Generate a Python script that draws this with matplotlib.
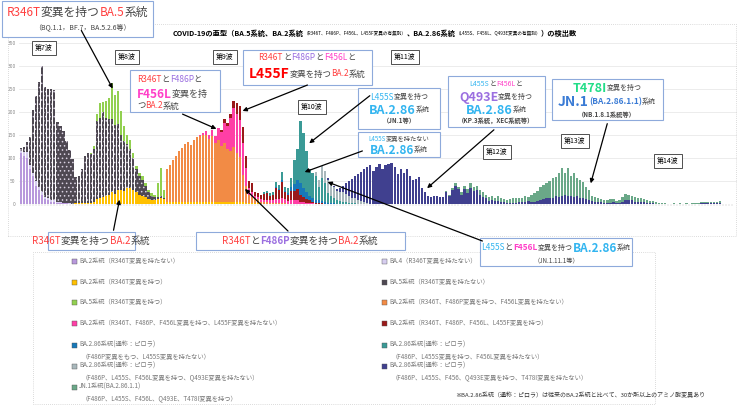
import numpy as np
import matplotlib
matplotlib.use("Agg")
import matplotlib.pyplot as plt
from matplotlib.patches import Rectangle, FancyArrowPatch

plt.rcParams['font.family'] = ['Noto Sans CJK JP', 'DejaVu Sans']
plt.rcParams['hatch.color'] = '#d8d0e0'
plt.rcParams['hatch.linewidth'] = 0.6

W, H = 740, 405
N_WEEKS = 235

# ---- data (weekly detections), each block = (start week, values) ----
ba2_no = (0, [110, 105, 100, 75, 60, 40, 30, 20, 10, 8, 5, 5, 3, 2, 2, 2, 1, 1])
ba4 = (0, [5, 8, 12, 10, 8, 10, 8, 6, 5, 4, 3, 3, 2, 2, 1, 1, 1])
ba5_no = (0, [7, 11, 22, 61, 137, 185, 227, 274, 240, 238, 242, 240, 173, 166, 155, 133, 116, 97, 56, 58, 73, 102, 107,
              105, 115, 170, 175, 185, 170, 165, 160, 150, 145, 120, 110, 95, 85, 70, 50, 40, 35, 25, 15, 10, 8, 5, 5, 3])
ba2_r346t = (18, [2, 2, 3, 3, 3,
                  3, 5, 10, 12, 15, 18, 20, 25, 22, 30, 30, 28, 35, 35, 30, 25, 20, 18, 15, 10, 8, 8, 10, 12, 10,
                  5, 5, 5, 5, 5, 5, 5, 5, 5, 5, 5, 5, 5, 5, 5, 5, 5, 5, 5, 5, 5, 5, 5, 5, 5, 5, 2, 2, 2, 2, 2])
ba5_r346t = (23, [2, 5, 15, 33, 22, 36, 46, 77, 66, 71, 52, 31, 21, 20, 10, 7, 7, 7, 5, 5, 5, 4, 30, 61, 17])
ba2_f486p = (48, [70, 80, 90, 100, 110, 117, 125, 130, 123, 135, 140, 142, 145, 145, 137, 143, 128, 135, 122, 127, 115,
                  111, 119, 105, 98, 58, 37, 17, 13, 10, 8, 5, 4, 4, 3, 3, 2, 2, 2, 2, 1, 1])
ba2_f456l = (59, [3, 5, 8, 8, 12, 15, 25, 30, 45, 50, 70, 85, 85, 80, 70, 40, 15, 10, 5, 5, 5,
                  5, 5, 5, 5, 8, 8, 10, 8, 6, 8, 8, 8, 5, 5, 3, 3, 2, 1, 1, 1])
ba2_l455f = (66, [3, 8, 5, 10, 15, 25, 30, 35, 25, 15, 20, 10, 8, 10,
                  12, 15, 10, 12, 25, 20, 35, 15, 12, 20, 20, 25, 15, 10, 8, 5, 3, 2, 2, 1, 1])
ba286_blue = (84, [2, 2, 5, 3, 5, 8, 15, 20, 25, 20, 15, 10, 8, 6, 5, 5, 4, 3, 2, 2, 1])
ba286_teal = (80, [5, 5, 5, 5, 10, 10, 17, 9, 11, 20, 52, 67, 135, 120, 89, 57, 54, 51, 30, 50, 41,
                   20, 15, 10, 8, 6, 5, 4, 3, 2, 2, 1, 1, 1])
ba286_f456l = (97, [10, 15, 25, 25, 30, 28, 25, 20, 20, 20, 18, 15, 12, 10, 8, 5, 3, 2, 1])
ba286_q493e = (101, [3, 2, 3, 3, 9, 15, 23, 32, 41, 48, 56, 64, 71, 78, 84, 72, 80, 88, 75, 85, 88, 90, 80, 65, 75,
                     68, 75, 60, 52, 55, 58, 35, 25, 18, 15, 17, 17, 16, 15, 25, 17, 30, 40, 33, 20, 32, 24, 35, 28,
                     30, 20, 15, 12, 7, 8, 6, 7, 5, 4, 3, 2, 2, 2, 4, 4, 5, 6, 5, 5, 7, 8, 10, 13, 13, 14, 18, 15,
                     18, 20, 17, 18, 16, 18, 12, 12, 10, 8, 7, 5, 4, 4, 3, 2, 3, 4, 3, 2, 4, 8, 8, 8, 5, 5, 4, 4,
                     3, 2, 2, 1, 1, 1, 0, 0, 0, 1, 0, 1, 0, 1, 0, 1, 1, 1, 2, 2, 2, 2, 2, 2, 2])
jn1 = (140, [3, 3, 5, 5, 5, 5, 8, 8, 10, 10, 10, 10, 10, 8, 8, 10, 8, 10, 8, 7, 6, 8, 10, 10, 8, 10, 12, 10, 15,
             18, 22, 28, 32, 32, 38, 42, 40, 52, 60, 48, 62, 42, 52, 38, 40, 35, 27, 23, 10, 10, 8, 7, 6, 7, 8,
             7, 4, 6, 12, 14, 12, 10, 10, 8, 8, 7, 6, 5, 4, 3, 2, 2, 2, 0, 0, 2, 0, 2, 0, 2, 0, 1, 1, 1, 2, 2,
             3, 3, 3, 3, 4])

# stack order (bottom -> top), legend label, colour, hatch
series = [
    ("ba2_no", ba2_no, "#b898dc", None),
    ("ba4", ba4, "#d6cdef", None),
    ("ba2_r346t", ba2_r346t, "#ffc000", None),
    ("ba5_no", ba5_no, "#4e4852", "...."),
    ("ba5_r346t", ba5_r346t, "#92d050", None),
    ("ba2_f486p", ba2_f486p, "#f28b45", None),
    ("ba2_f456l", ba2_f456l, "#ff3fa6", None),
    ("ba2_l455f", ba2_l455f, "#9a1a1a", None),
    ("ba286_blue", ba286_blue, "#1778b8", None),
    ("ba286_teal", ba286_teal, "#3a9a96", None),
    ("ba286_f456l", ba286_f456l, "#a9b8bc", None),
    ("ba286_q493e", ba286_q493e, "#40408f", None),
    ("jn1", jn1, "#6aa888", None),
]

legend_left = [
    ("#b898dc", "BA.2系統（R346T変異を持たない）", None),
    ("#ffc000", "BA.2系統（R346T変異を持つ）", None),
    ("#92d050", "BA.5系統（R346T変異を持つ）", None),
    ("#ff3fa6", "BA.2系統（R346T、F486P、F456L変異を持つ、L455F変異を持たない）", None),
    ("#1778b8", "BA.2.86系統(通称：ピロラ)", "（F486P変異をもつ、L455S変異を持たない）"),
    ("#a9b8bc", "BA.2.86系統(通称：ピロラ)", "（F486P、L455S、F456L変異を持つ、Q493E変異を持たない）"),
    ("#6aa888", "JN.1系統(BA.2.86.1.1)", "（F486P、L455S、F456L、Q493E、T478I変異を持つ）"),
]
legend_right = [
    ("#d6cdef", "BA.4（R346T変異を持たない）", None),
    ("#4e4852", "BA.5系統（R346T変異を持たない）", None),
    ("#f28b45", "BA.2系統（R346T、F486P変異を持つ、F456L変異を持たない）", None),
    ("#9a1a1a", "BA.2系統（R346T、F486P、F456L、L455F変異を持つ）", None),
    ("#3a9a96", "BA.2.86系統(通称：ピロラ)", "（F486P、L455S変異を持つ、F456L変異を持たない）"),
    ("#40408f", "BA.2.86系統(通称：ピロラ)", "（F486P、L455S、F456、Q493E変異を持つ、T478I変異を持たない）"),
]

waves = [("第7波", 44, 48), ("第8波", 127, 57), ("第9波", 225, 57), ("第10波", 312, 107),
         ("第11波", 405, 57), ("第12波", 497, 152), ("第13波", 575, 141), ("第14波", 668, 161)]

RED = "#ff4040"
PUR = "#9b6fe0"
PINK = "#ff3fc8"
SKY = "#33b5f0"
BLU = "#3a7bd5"
GRY = "#444444"

fig = plt.figure(figsize=(W / 100, H / 100), dpi=100)
fig.patch.set_facecolor("white")


def fx(x):
    return x / W


def fy(y):
    return 1 - y / H


ax = fig.add_axes([fx(18.5), fy(204), fx(736.5) - fx(18.5), fy(43) - fy(204)])
x = np.arange(N_WEEKS)
bottom = np.zeros(N_WEEKS)
for name, (start, vals), color, hatch in series:
    arr = np.zeros(N_WEEKS)
    arr[start:start + len(vals)] = vals
    ax.bar(x, arr, bottom=bottom, width=0.75, color=color, hatch=hatch, linewidth=0)
    bottom += arr

ax.set_xlim(-0.8, N_WEEKS + 0.5)
ax.set_ylim(0, 350)
ax.set_yticks(range(0, 351, 50))
ax.tick_params(axis="y", labelsize=3.5, labelcolor="#888888", length=0, pad=2)
ax.set_xticks(x)
ax.tick_params(axis="x", length=1.5, width=0.3, color="#bbbbbb", labelbottom=False)
ax.grid(axis="y", color="#e4e4e4", linewidth=0.5)
ax.set_axisbelow(True)
for s in ax.spines.values():
    s.set_visible(False)
ax.axhline(0, color="#cccccc", linewidth=0.5)

# outer dotted frames
fig.add_artist(Rectangle((fx(8), fy(236)), fx(728), fy(24) - fy(236), transform=fig.transFigure,
                         fill=False, ls=(0, (1, 2)), lw=0.5, ec="#bbbbbb"))
fig.add_artist(Rectangle((fx(33), fy(404)), fx(622), fy(252) - fy(404), transform=fig.transFigure,
                         fill=False, ls=(0, (1, 2)), lw=0.5, ec="#bbbbbb"))

fig.text(fx(6), fy(33), "検出数", fontsize=3, color="#888888", va="center")
renderer = fig.canvas.get_renderer()


def rich(xc, y, runs, ha="center"):
    """Draw coloured runs of text on one line, centred at xc (pixels)."""
    texts = []
    for s, color, size, bold in runs:
        t = fig.text(0, fy(y), s, color=color, fontsize=size, va="center",
                     fontweight="bold" if bold else "normal", zorder=6)
        texts.append(t)
    widths = [t.get_window_extent(renderer).width for t in texts]
    total = sum(widths)
    xs = xc - total / 2 if ha == "center" else xc
    for t, w in zip(texts, widths):
        t.set_x(fx(xs))
        xs += w


def box(x0, y0, x1, y1):
    fig.add_artist(Rectangle((fx(x0), fy(y1)), fx(x1 - x0), fy(y0) - fy(y1), transform=fig.transFigure,
                             fc="white", ec="#8eaadb", lw=0.8, zorder=5))


def arrow(p0, p1):
    fig.add_artist(FancyArrowPatch((fx(p0[0]), fy(p0[1])), (fx(p1[0]), fy(p1[1])), transform=fig.transFigure,
                                   arrowstyle="-|>", mutation_scale=6, lw=0.9, color="black", zorder=7))


# title
rich(375, 33, [("COVID-19の亜型（BA.5系統、BA.2系統", "black", 5.2, True),
               ("（R346T、F486P、F456L、L455F変異の有無別）", "black", 3.3, False),
               ("、BA.2.86系統", "black", 5.2, True),
               ("（L455S、F456L、Q493E変異の有無別）", "black", 3.3, False),
               ("）の検出数", "black", 5.2, True)])

for label, wx, wy in waves:
    fig.text(fx(wx), fy(wy), label, fontsize=5, ha="center", va="center", zorder=6,
             bbox=dict(boxstyle="square,pad=0.5", fc="white", ec="#333333", lw=0.6))

# annotation boxes
box(2, 1, 153, 37)
rich(77, 12, [("R346T", RED, 8.5, False), ("変異を持つ", GRY, 8.5, False), ("BA.5", RED, 8.5, False),
              ("系統", GRY, 8.5, False)])
rich(82, 28, [("（BQ.1.1，BF.7，BA.5.2.6等）", GRY, 5, False)])
arrow((80, 28), (114, 91))

box(130, 70, 220, 112)
rich(130 + 7, 80, [("R346T", RED, 6, False), ("と", GRY, 6, False), ("F486P", PUR, 6, False), ("と", GRY, 6, False)], ha="left")
rich(130 + 7, 94, [("F456L", PINK, 8.5, True), ("変異を持", GRY, 6.5, False)], ha="left")
rich(130 + 7, 106, [("つ", GRY, 6, False), ("BA.2", RED, 6, False), ("系統", GRY, 6, False)], ha="left")
arrow((180, 113), (219, 130))

box(243, 50, 372, 85)
rich(307, 58, [("R346T", RED, 6, False), ("と", GRY, 6, False), ("F486P", PUR, 6, False), ("と", GRY, 6, False),
               ("F456L", PINK, 6, False), ("と", GRY, 6, False)])
rich(307, 74, [("L455F", "#ff0000", 10, True), ("変異を持つ", GRY, 6, False), ("BA.2", RED, 6, False),
               ("系統", GRY, 6, False)])
arrow((310, 84), (240, 112))

box(358, 88, 440, 129)
rich(399, 97, [("L455S", SKY, 6, False), ("変異を持つ", GRY, 5, False)])
rich(399, 110, [("BA.2.86", SKY, 9, True), ("系統", GRY, 5, False)])
rich(399, 121, [("（JN.1等）", GRY, 4.5, True)])
arrow((372, 94), (307, 145))

box(358, 132, 440, 157)
rich(399, 139, [("L455S", SKY, 4.5, False), ("変異を持たない", GRY, 4.5, False)])
rich(399, 150, [("BA.2.86", SKY, 8.5, True), ("系統", GRY, 5, False)])
arrow((365, 150), (302, 173))

box(448, 76, 545, 127)
rich(496, 84, [("L455S", SKY, 5, False), ("と", GRY, 5, False), ("F456L", PINK, 5, False), ("と", GRY, 5, False)])
rich(496, 97, [("Q493E", PUR, 9, True), ("変異を持つ", GRY, 5, False)])
rich(496, 110, [("BA.2.86", SKY, 9, True), ("系統", GRY, 5, False)])
rich(496, 121, [("（KP.3系統，XEC系統等）", GRY, 4.5, True)])
arrow((496, 128), (425, 190))

box(552, 79, 663, 120)
rich(607, 88, [("T478I", "#22dd88", 9, True), ("変異を持つ", GRY, 5, False)])
rich(607, 102, [("JN.1", BLU, 10, True), ("(BA.2.86.1.1)", BLU, 6, True), ("系統", GRY, 5, False)])
rich(607, 114, [("（NB.1.8.1系統等）", GRY, 4.5, True)])
arrow((608, 121), (590, 186))

box(48, 232, 135, 250)
rich(91, 241, [("R346T", RED, 7, False), ("変異を持つ", GRY, 7, False), ("BA.2", RED, 7, False), ("系統", GRY, 7, False)])
arrow((113, 233), (120, 197))

box(196, 232, 405, 250)
rich(300, 241, [("R346T", RED, 7, False), ("と", GRY, 7, False), ("F486P", PUR, 7, True), ("変異を持つ", GRY, 7, False),
                ("BA.2", RED, 7, False), ("系統", GRY, 7, False)])
arrow((290, 233), (243, 187))

box(480, 238, 632, 266)
rich(556, 248, [("L455S", SKY, 6, False), ("と", GRY, 6, False), ("F456L", PINK, 6, True), ("変異を持つ", GRY, 5, False),
                ("BA.2.86", SKY, 8.5, True), ("系統", GRY, 5, False)])
rich(556, 260, [("（JN.1.11.1等）", GRY, 4.5, False)])
arrow((485, 242), (325, 181))

# legend
rows = [261, 282, 302, 323, 345, 366, 387]
for col, items in ((72, legend_left), (382, legend_right)):
    for (color, label, sub), ry in zip(items, rows):
        fig.add_artist(Rectangle((fx(col), fy(ry + 2.5)), fx(5), fy(0) - fy(5), transform=fig.transFigure,
                                 fc=color, ec="#555555", lw=0.3))
        fig.text(fx(col + 7), fy(ry), label, fontsize=4.5, color="#777777", va="center")
        if sub:
            fig.text(fx(col + 10), fy(ry + 12), sub, fontsize=4.5, color="#777777", va="center")

fig.text(fx(705), fy(395), "※BA.2.86系統（通称：ピロラ）は従来のBA.2系統と比べて、30か所以上のアミノ酸変異あり",
         fontsize=4.3, color="#333333", ha="right", va="center")

fig.savefig("out.png", dpi=100)
